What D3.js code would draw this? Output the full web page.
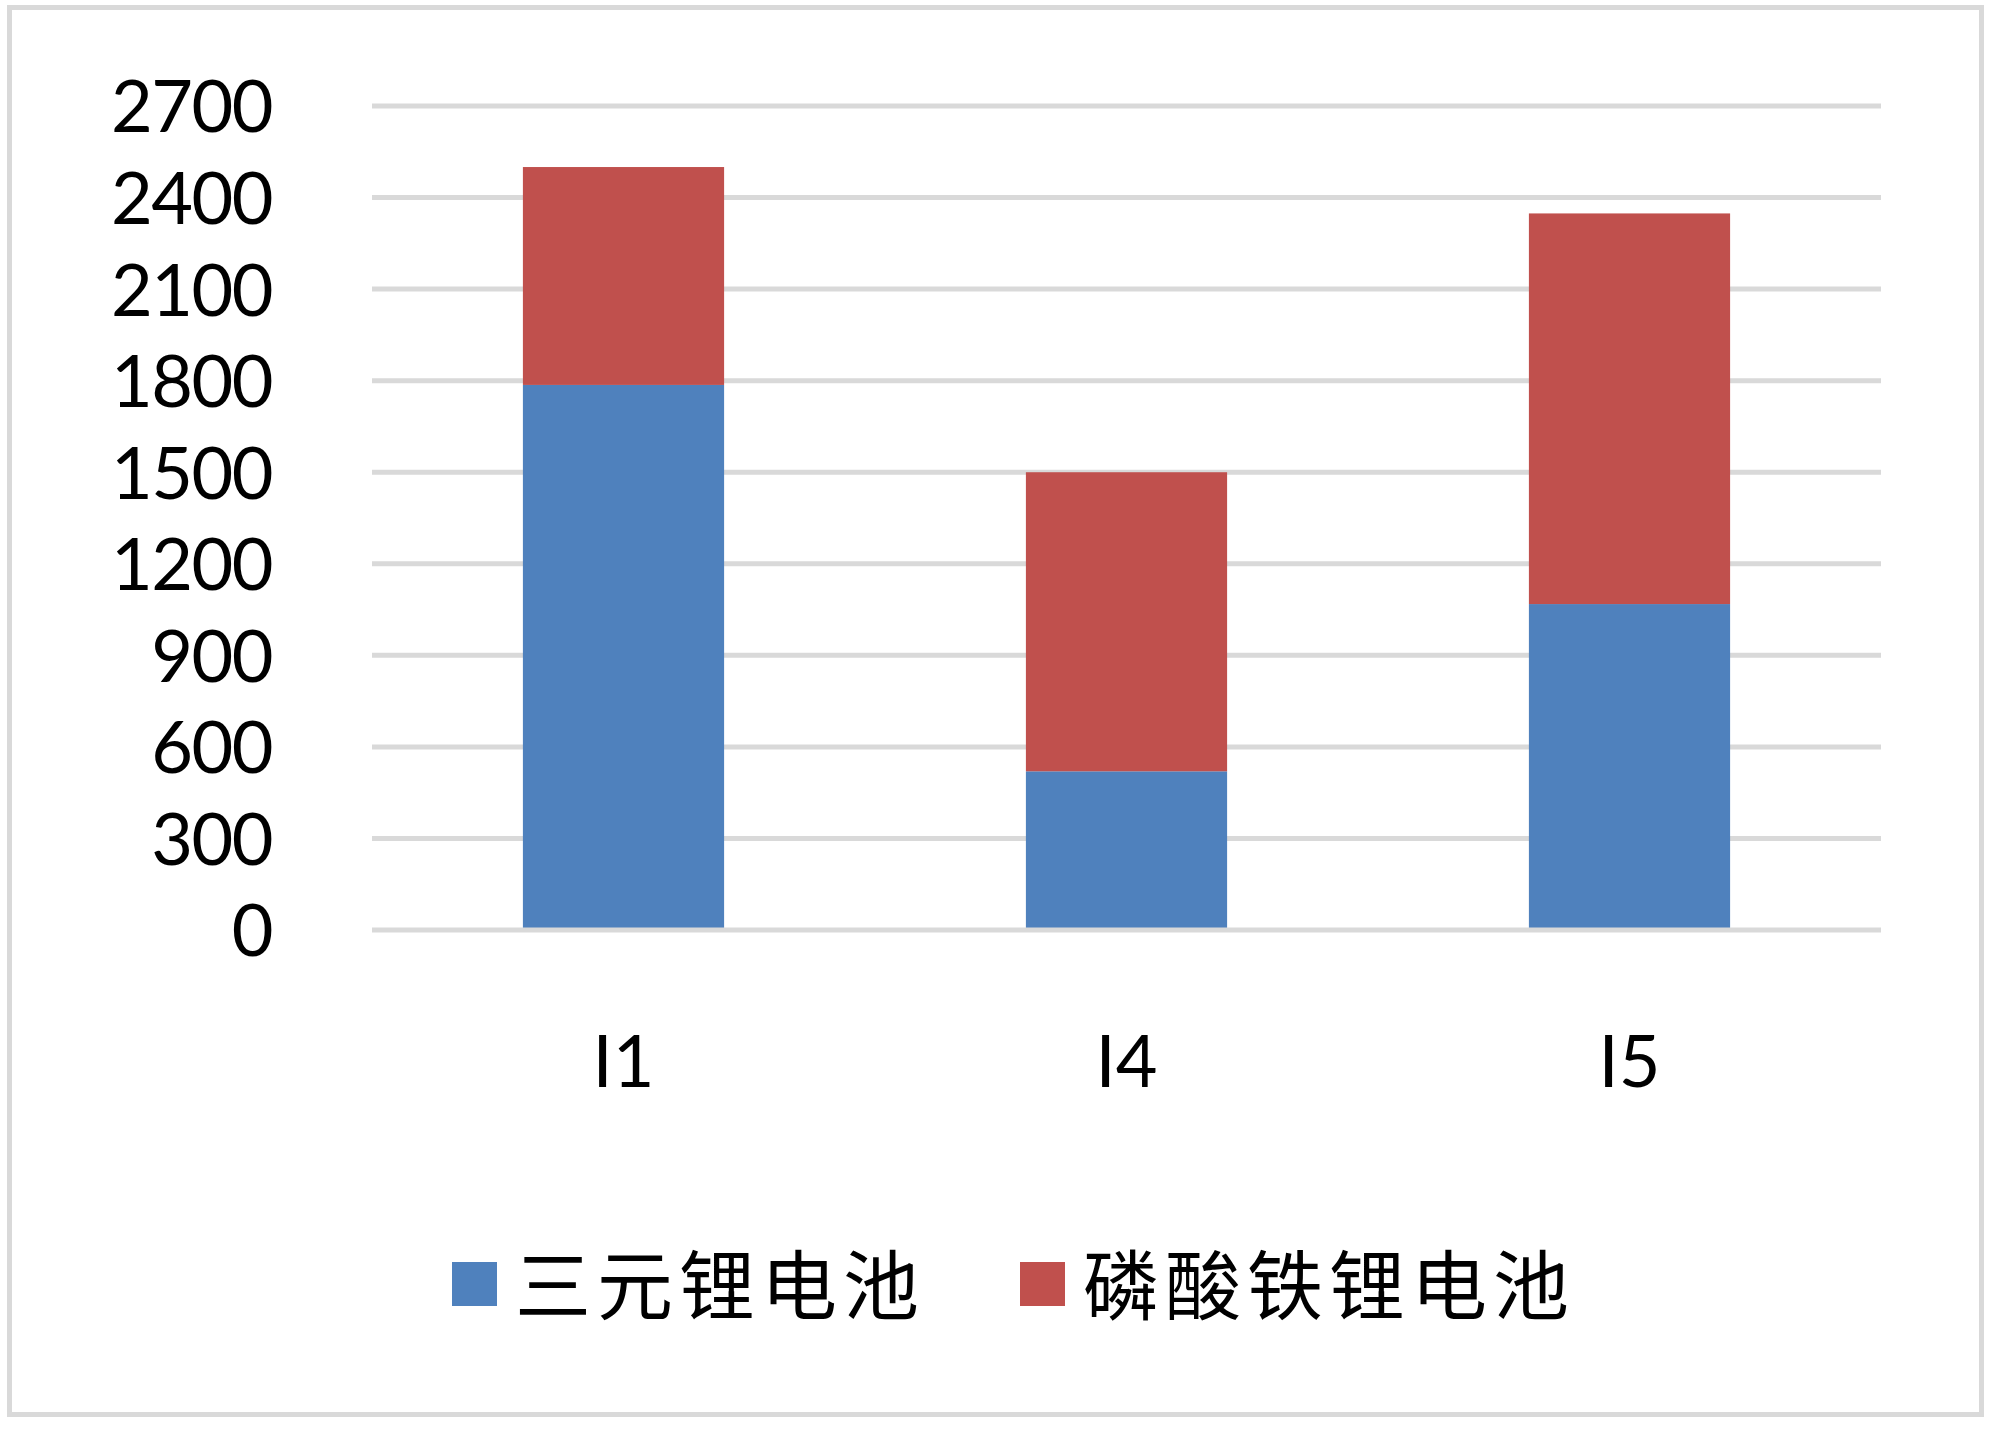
<!DOCTYPE html>
<html>
<head>
<meta charset="utf-8">
<script src="https://cdnjs.cloudflare.com/ajax/libs/d3/7.8.5/d3.min.js"></script>
<style>
  html, body { margin: 0; padding: 0; background: #fff; }
  svg { display: block; }
</style>
</head>
<body>
<div id="chart"></div>
<script>
// data
const categories = ['I1', 'I4', 'I5'];
const seriesNames = ['三元锂电池', '磷酸铁锂电池'];
const ternary = [1786, 520, 1068];
const lfp = [714, 980, 1280];
const yTicks = [0, 300, 600, 900, 1200, 1500, 1800, 2100, 2400, 2700];
const colors = ['#4f81bd', '#c0504d'];

const width = 2000, height = 1438;
const margin = { left: 372, right: 119, top: 106, bottom: 508 };
const plotW = width - margin.left - margin.right,
	plotH = height - margin.top - margin.bottom;

const svg = d3.select('#chart').append('svg')
	.attr('width', width)
	.attr('height', height);

// outer frame
svg.append('rect')
	.attr('x', 9.5).attr('y', 7.5)
	.attr('width', 1972).attr('height', 1407)
	.attr('fill', 'none')
	.attr('stroke', '#d9d9d9')
	.attr('stroke-width', 5);

const g = svg.append('g')
	.attr('transform', 'translate(' + margin.left + ',' + margin.top + ')');

const x = d3.scaleBand().domain(categories).range([0, plotW]);
const y = d3.scaleLinear().domain([0, 2700]).range([plotH, 0]);

// gridlines
g.append('g').selectAll('line')
	.data(yTicks.filter(d => d > 0))
	.join('line')
	.attr('x1', 0).attr('x2', plotW)
	.attr('y1', d => y(d)).attr('y2', d => y(d))
	.attr('stroke', '#d9d9d9')
	.attr('stroke-width', 5);

// stacked bars
const rows = categories.map((c, i) => ({ cat: c, a: ternary[i], b: lfp[i] }));
const stack = d3.stack().keys(['a', 'b'])(rows);
const barW = x.bandwidth() * 0.4;

g.append('g').selectAll('g')
	.data(stack)
	.join('g')
	.attr('fill', (d, i) => colors[i])
	.selectAll('rect')
	.data(d => d)
	.join('rect')
	.attr('x', d => x(d.data.cat) + (x.bandwidth() - barW) / 2)
	.attr('width', barW)
	.attr('y', d => y(d[1]))
	.attr('height', d => y(d[0]) - y(d[1]));

// axis line at zero, on top of bars
g.append('line')
	.attr('x1', 0).attr('x2', plotW)
	.attr('y1', y(0)).attr('y2', y(0))
	.attr('stroke', '#d9d9d9')
	.attr('stroke-width', 5);

// y labels
const yAxis = d3.axisLeft(y)
	.tickValues(yTicks)
	.tickFormat(d3.format('d'))
	.tickSize(0)
	.tickPadding(100);
const gY = g.append('g').call(yAxis);
gY.select('.domain').remove();
gY.selectAll('text')
	.attr('font-family', 'Lato, "Open Sans", sans-serif')
	.attr('font-size', 72)
	.attr('letter-spacing', -1.5)
	.attr('fill', '#000')
	.attr('dy', '0.36em');

// x labels
const xAxis = d3.axisBottom(x).tickSize(0).tickPadding(0);
const gX = g.append('g')
	.attr('transform', 'translate(0,' + plotH + ')')
	.call(xAxis);
gX.select('.domain').remove();
gX.selectAll('text')
	.attr('font-family', 'Lato, "Open Sans", sans-serif')
	.attr('font-size', 72)
	.attr('fill', '#000')
	.attr('y', 157)
	.attr('dy', 0);

// legend
const legend = svg.append('g').attr('transform', 'translate(452,1284)');
const items = legend.selectAll('g')
	.data(seriesNames)
	.join('g');
items.append('rect')
	.attr('width', 45).attr('height', 44)
	.attr('y', -22)
	.attr('fill', (d, i) => colors[i]);
items.append('text')
	.attr('x', 63)
	.attr('y', -3)
	.attr('dominant-baseline', 'central')
	.attr('font-family', '"Noto Sans CJK SC", sans-serif')
	.attr('font-size', 76)
	.attr('letter-spacing', 6)
	.attr('fill', '#000')
	.text(d => d);

let lx = 0;
items.each(function (d, i) {
	d3.select(this).attr('transform', 'translate(' + lx + ',0)');
	const tw = d3.select(this).select('text').node().getComputedTextLength();
	lx += 63 + tw + 95;
});
</script>
</body>
</html>
